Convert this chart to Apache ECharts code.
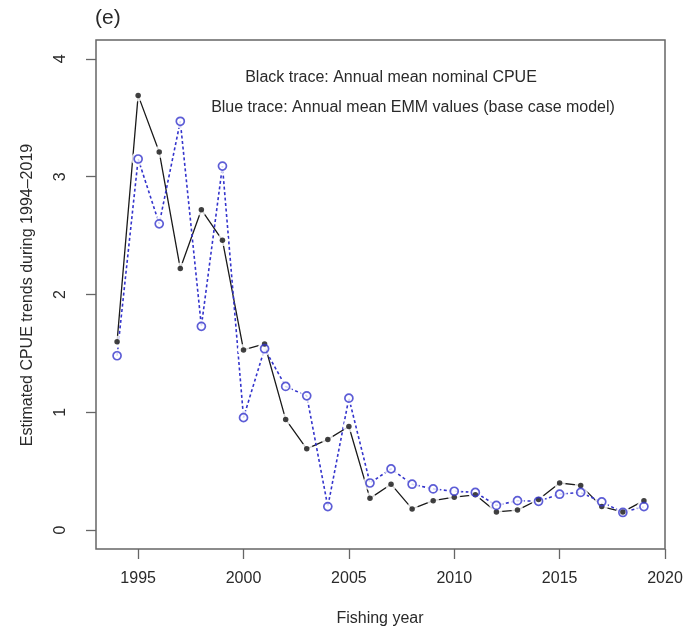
<!DOCTYPE html>
<html>
<head>
<meta charset="utf-8">
<script src="https://cdn.jsdelivr.net/npm/echarts@6/dist/echarts.min.js"></script>
<style>
html,body{margin:0;padding:0;background:#fff;}
#chart{width:686px;height:634px;}
</style>
</head>
<body>
<div id="chart"></div>
<script>
const years = [1994,1995,1996,1997,1998,1999,2000,2001,2002,2003,2004,2005,2006,2007,2008,2009,2010,2011,2012,2013,2014,2015,2016,2017,2018,2019];
const nominalCPUE = [1.60,3.69,3.21,2.22,2.72,2.46,1.53,1.58,0.94,0.69,0.77,0.88,0.27,0.39,0.18,0.25,0.28,0.30,0.155,0.17,0.26,0.40,0.38,0.20,0.155,0.25];
const emmValues = [1.48,3.15,2.60,3.47,1.73,3.09,0.955,1.54,1.22,1.14,0.20,1.12,0.40,0.52,0.39,0.35,0.33,0.32,0.21,0.25,0.245,0.305,0.32,0.24,0.15,0.20];
const xTicks = [1995,2000,2005,2010,2015,2020];
const yTicks = [0,1,2,3,4];

const FONT = 'Liberation Sans, Arial, Helvetica, sans-serif';
const TXT = '#2a2a2a';
const BLUE = '#3434cc';

const blackPts = years.map((y,i)=>[y,nominalCPUE[i]]);
const bluePts = years.map((y,i)=>[y,emmValues[i]]);

const chart = echarts.init(document.getElementById('chart'));
chart.setOption({
  animation:false,
  backgroundColor:'#fff',
  grid:{left:96,right:21,top:40,bottom:85,show:true,borderColor:'#666',borderWidth:1.5,backgroundColor:'transparent'},
  xAxis:{
    type:'value',min:1993,max:2020,
    axisLine:{show:false,onZero:false},
    splitLine:{show:false},
    axisTick:{show:true,length:10,customValues:xTicks,lineStyle:{color:'#666',width:1.3}},
    axisLabel:{customValues:xTicks,formatter:v=>String(v),fontSize:16,fontFamily:FONT,color:TXT,margin:22}
  },
  yAxis:{
    type:'value',min:-0.16,max:4.16,
    axisLine:{show:false,onZero:false},
    splitLine:{show:false},
    axisTick:{show:true,length:10,customValues:yTicks,lineStyle:{color:'#666',width:1.3}},
    axisLabel:{customValues:yTicks,formatter:v=>String(v),rotate:90,fontSize:16,fontFamily:FONT,color:TXT,margin:27}
  },
  graphic:[
    {type:'text',left:95,top:8,style:{text:'(e)',fontSize:21,fontFamily:FONT,fill:TXT}},
    {type:'text',x:391,y:78,style:{text:'Black trace: Annual mean nominal CPUE',fontSize:16,fontFamily:FONT,fill:TXT,textAlign:'center',textVerticalAlign:'middle'}},
    {type:'text',x:413,y:108,style:{text:'Blue trace: Annual mean EMM values (base case model)',fontSize:16,fontFamily:FONT,fill:TXT,textAlign:'center',textVerticalAlign:'middle'}},
    {type:'text',x:380,y:619,style:{text:'Fishing year',fontSize:16,fontFamily:FONT,fill:TXT,textAlign:'center',textVerticalAlign:'middle'}},
    {type:'text',x:28,y:295,rotation:Math.PI/2,style:{text:'Estimated CPUE trends during 1994\u20132019',fontSize:16,fontFamily:FONT,fill:TXT,textAlign:'center',textVerticalAlign:'middle'}}
  ],
  series:[
    {type:'line',data:blackPts,showSymbol:false,z:2,lineStyle:{color:'#1a1a1a',width:1.3},silent:true},
    {type:'line',data:bluePts,showSymbol:false,z:2,lineStyle:{color:BLUE,width:1.6,type:[3,2.5]},silent:true},
    {type:'scatter',data:blackPts,symbolSize:12,z:3,itemStyle:{color:'#fff'},silent:true},
    {type:'scatter',data:bluePts,symbolSize:14,z:3,itemStyle:{color:'#fff'},silent:true},
    {type:'scatter',data:blackPts,symbolSize:5.5,z:4,itemStyle:{color:'#111'},silent:true},
    {type:'scatter',data:bluePts,symbolSize:8,z:5,itemStyle:{color:'rgba(0,0,0,0)',borderColor:BLUE,borderWidth:1.7},silent:true}
  ]
});
</script>
</body>
</html>
